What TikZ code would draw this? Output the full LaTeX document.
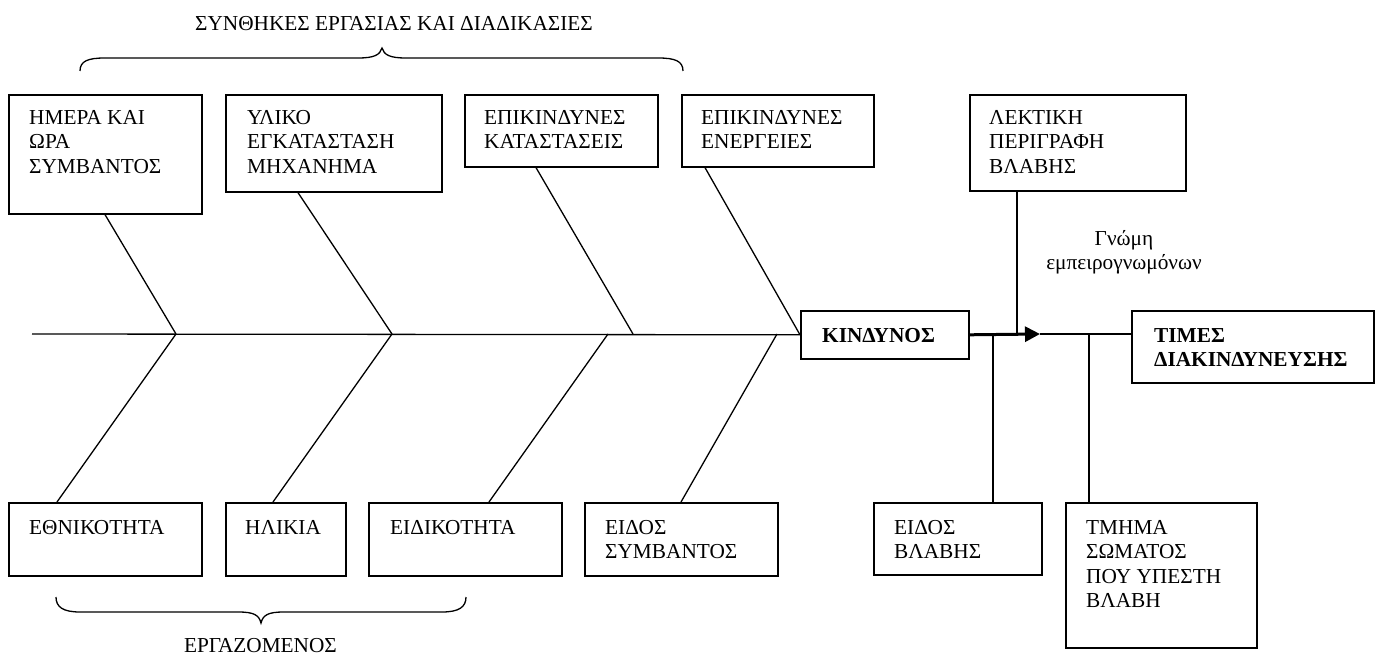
\documentclass[tikz,border=0pt]{standalone}
\usepackage{fontspec}
\setmainfont{Liberation Serif}
\usetikzlibrary{calc,arrows.meta}
\begin{document}
\begin{tikzpicture}[x=1pt,y=-1pt,
  box/.style={draw,line width=1.6pt,inner sep=0pt,anchor=north west},
  txt/.style={inner sep=0pt,anchor=north west,align=left,
    font=\fontsize{21.3pt}{24.5pt}\selectfont},
  lbl/.style={inner sep=0pt,font=\fontsize{21.3pt}{24.5pt}\selectfont},
  bone/.style={line width=1.3pt},
  bracket/.style={line width=1.3pt},
  lead/.style={line width=3pt,-{Triangle[length=15pt,width=15pt]}},
]
\useasboundingbox (0,0) rectangle (1382,655);

% ---- upper cause boxes
\node[box,minimum width=193pt,minimum height=119pt] (hA) at (8,94) {};
\node[box,minimum width=216pt,minimum height=97pt]  (hB) at (225,94) {};
\node[box,minimum width=193pt,minimum height=72pt]  (hC) at (464,94) {};
\node[box,minimum width=192pt,minimum height=72pt]  (hD) at (681,94) {};
\node[box,minimum width=216pt,minimum height=96pt]  (hE) at (969,94) {};

\node[txt] (hA-t) at ($(hA.north west)+(21,12.85)$) {\strut ΗΜΕΡΑ ΚΑΙ\\ΩΡΑ\\ΣΥΜΒΑΝΤΟΣ};
\node[txt] (hB-t) at ($(hB.north west)+(22,12.85)$) {\strut ΥΛΙΚΟ\\ΕΓΚΑΤΑΣΤΑΣΗ\\ΜΗΧΑΝΗΜΑ};
\node[txt] (hC-t) at ($(hC.north west)+(20,12.85)$) {\strut ΕΠΙΚΙΝΔΥΝΕΣ\\ΚΑΤΑΣΤΑΣΕΙΣ};
\node[txt] (hD-t) at ($(hD.north west)+(20,12.85)$) {\strut ΕΠΙΚΙΝΔΥΝΕΣ\\ΕΝΕΡΓΕΙΕΣ};
\node[txt] (hE-t) at ($(hE.north west)+(20,12.85)$) {\strut ΛΕΚΤΙΚΗ\\ΠΕΡΙΓΡΑΦΗ\\ΒΛΑΒΗΣ};

% ---- head and outcome
\node[box,minimum width=168pt,minimum height=48pt] (kin) at (800,310) {};
\node[txt,font=\fontsize{21.3pt}{24.5pt}\selectfont\bfseries] (kin-t)
  at ($(kin.north west)+(22,14.85)$) {\strut ΚΙΝΔΥΝΟΣ};
\node[box,minimum width=242pt,minimum height=72pt] (tim) at (1131,310) {};
\node[txt,font=\fontsize{21.3pt}{24.5pt}\selectfont\bfseries] (tim-t)
  at ($(tim.north west)+(23,14.85)$) {\strut ΤΙΜΕΣ\\ΔΙΑΚΙΝΔΥΝΕΥΣΗΣ};

% ---- lower cause boxes
\node[box,minimum width=193pt,minimum height=73pt] (eth) at (8,502) {};
\node[box,minimum width=120pt,minimum height=73pt] (hli) at (225,502) {};
\node[box,minimum width=193pt,minimum height=73pt] (eid) at (368,502) {};
\node[box,minimum width=193pt,minimum height=73pt] (sym) at (584,502) {};
\node[box,minimum width=168pt,minimum height=72pt] (vla) at (873,502) {};
\node[box,minimum width=191pt,minimum height=145pt] (tmi) at (1065,502) {};

\node[txt] (eth-t) at ($(eth.north west)+(21,14.85)$) {\strut ΕΘΝΙΚΟΤΗΤΑ};
\node[txt] (hli-t) at ($(hli.north west)+(20,14.85)$) {\strut ΗΛΙΚΙΑ};
\node[txt] (eid-t) at ($(eid.north west)+(22,14.85)$) {\strut ΕΙΔΙΚΟΤΗΤΑ};
\node[txt] (sym-t) at ($(sym.north west)+(21,14.85)$) {\strut ΕΙΔΟΣ\\ΣΥΜΒΑΝΤΟΣ};
\node[txt] (vla-t) at ($(vla.north west)+(21,14.85)$) {\strut ΕΙΔΟΣ\\ΒΛΑΒΗΣ};
\node[txt] (tmi-t) at ($(tmi.north west)+(21,14.85)$) {\strut ΤΜΗΜΑ\\ΣΩΜΑΤΟΣ\\ΠΟΥ ΥΠΕΣΤΗ\\ΒΛΑΒΗ};

% ---- free labels
\node[lbl,anchor=base] (top-l) at (394,31) {ΣΥΝΘΗΚΕΣ ΕΡΓΑΣΙΑΣ ΚΑΙ ΔΙΑΔΙΚΑΣΙΕΣ};
\node[lbl,anchor=base] (bot-l) at (260.5,652) {ΕΡΓΑΖΟΜΕΝΟΣ};
\node[lbl,anchor=north,align=center] (gnm) at (1124,227.85) {\strut Γνώμη\\εμπειρογνωμόνων};

% ---- spine and joints
\coordinate (tail) at (32,334);
\coordinate (j1) at (176,334);
\coordinate (j2) at (392,334);
\coordinate (j3) at (633,334);
\coordinate (k3) at (608,334);
\coordinate (k4) at (777,334);
\coordinate (v1) at (993,334);
\coordinate (v2) at (1017,334);
\coordinate (tip) at (1040,334);
\coordinate (v3) at (1089,334);

\draw[bone] (tail) -- (kin.west);

% upper bones
\draw[bone] ($(hA.south west)+(97,0)$) -- (j1);
\draw[bone] ($(hB.south west)+(73,0)$) -- (j2);
\draw[bone] ($(hC.south west)+(72,0)$) -- (j3);
\draw[bone] ($(hD.south west)+(24,0)$) -- (kin.west);

% lower bones
\draw[bone] ($(eth.north west)+(49,0)$) -- (j1);
\draw[bone] ($(hli.north west)+(48,0)$) -- (j2);
\draw[bone] ($(eid.north west)+(121,0)$) -- (k3);
\draw[bone] ($(sym.north west)+(97,0)$) -- (k4);

% head to outcome
\draw[lead] (kin.east) -- (tip);
\draw[bone] (tip) -- (tip -| tim.west);
\draw[bone] ($(hE.south west)+(48,0)$) -- (v2);
\draw[bone] (v1) -- ($(vla.north west)+(120,0)$);
\draw[bone] (v3) -- ($(tmi.north west)+(24,0)$);

% ---- grouping braces
\draw[bracket] (80,71) .. controls (80,61) and (88,58) .. (105,58)
  -- (358,58) .. controls (374,58) and (380,55) .. (382,48)
  .. controls (384,55) and (390,58) .. (406,58)
  -- (658,58) .. controls (675,58) and (683,61) .. (683,71);
\draw[bracket] (56,597) .. controls (56,607) and (63,612) .. (80,612)
  -- (238,612) .. controls (254,612) and (259,615) .. (261,623)
  .. controls (263,615) and (268,612) .. (284,612)
  -- (442,612) .. controls (459,612) and (466,607) .. (466,597);
\end{tikzpicture}
\end{document}
